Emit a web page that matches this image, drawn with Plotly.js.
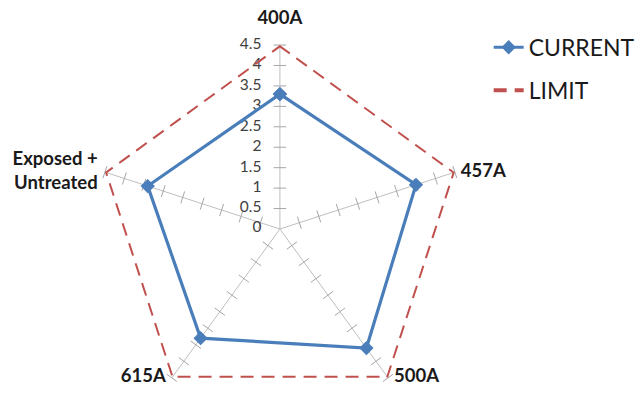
<!DOCTYPE html>
<html>
<head>
<meta charset="utf-8">
<script src="https://cdn.plot.ly/plotly-3.0.1.min.js"></script>
<style>
  html, body { margin: 0; padding: 0; background: #ffffff; overflow: hidden; }
  #chart { width: 640px; height: 430px; }
</style>
</head>
<body>
<div id="chart"></div>
<script>
// Radar chart data: current readings vs. the fixed limit on each branch
const categories = ['400A', '457A', '500A', '615A', 'Exposed +<br>Untreated'];
const currentValues = [3.3, 3.5, 3.6, 3.3, 3.4];
const limitValues = [4.5, 4.5, 4.5, 4.5, 4.5];
const radialTicks = [0, 0.5, 1, 1.5, 2, 2.5, 3, 3.5, 4, 4.5];

const FONT = 'Lato, "Open Sans", sans-serif';
const R_MAX = 4.5;
// points lying exactly on the hub are dropped by the polar inside-test,
// so the "0" label is anchored a hair off the centre
const HUB_NUDGE = 0.01;

// close a polygon by repeating its first vertex
const closeLoop = arr => arr.concat([arr[0]]);

const traces = [];

// small cross ticks on every spoke, perpendicular to the spoke
categories.forEach((cat, i) => {
  const rs = radialTicks.filter(v => v > 0);
  traces.push({
    type: 'scatterpolar',
    mode: 'markers',
    r: rs,
    theta: rs.map(() => cat),
    marker: {
      symbol: 'line-ew',
      size: 9,
      angle: 72 * i,
      color: '#A6A6A6',
      line: { color: '#A6A6A6', width: 1 }
    },
    hoverinfo: 'skip',
    showlegend: false
  });
});

// value labels along the first spoke, kept horizontal
traces.push({
  type: 'scatterpolar',
  mode: 'markers+text',
  r: radialTicks.map(v => Math.max(v, HUB_NUDGE)),
  theta: radialTicks.map(() => categories[0]),
  text: radialTicks.map(String),
  textposition: 'middle left',
  marker: { size: 28, opacity: 0 },
  textfont: { family: FONT, size: 15.5, color: '#404040' },
  hoverinfo: 'skip',
  showlegend: false,
  cliponaxis: false
});

// category names just outside each vertex of the outer ring
traces.push({
  type: 'scatterpolar',
  mode: 'markers+text',
  r: categories.map(() => R_MAX),
  theta: categories,
  text: categories.map(c => '<b>' + c + '</b>'),
  textposition: ['top center', 'middle right', 'middle right', 'middle left', 'middle left'],
  marker: { size: [24, 8, 8, 8, 10], opacity: 0 },
  textfont: { family: FONT, size: 18.5, color: '#1a1a1a' },
  hoverinfo: 'skip',
  showlegend: false,
  cliponaxis: false
});

traces.push({
  type: 'scatterpolar',
  mode: 'lines',
  name: 'LIMIT',
  r: closeLoop(limitValues),
  theta: closeLoop(categories),
  line: { color: '#C0504D', width: 4, dash: '13px,8px' },
  legendgroup: 'b',
  legendrank: 2,
  cliponaxis: false
});

traces.push({
  type: 'scatterpolar',
  mode: 'lines+markers',
  name: 'CURRENT',
  r: closeLoop(currentValues),
  theta: closeLoop(categories),
  line: { color: '#4A7EBB', width: 3.2 },
  marker: { symbol: 'diamond', size: 11, color: '#4A7EBB' },
  legendgroup: 'a',
  legendrank: 1
});

const layout = {
  width: 640,
  height: 430,
  margin: { l: 0, r: 0, t: 0, b: 0 },
  paper_bgcolor: '#ffffff',
  font: { family: FONT, color: '#404040' },
  showlegend: true,
  legend: {
    x: 0.772, y: 0.94, xanchor: 'left', yanchor: 'top',
    font: { family: FONT, size: 23, color: '#1a1a1a' },
    tracegroupgap: 10,
    bgcolor: 'rgba(0,0,0,0)'
  },
  polar: {
    domain: { x: [97 / 640, 469 / 640], y: [15 / 430, 387 / 430] },
    bgcolor: '#ffffff',
    gridshape: 'linear',
    radialaxis: {
      range: [0, R_MAX],
      angle: 90,
      showgrid: false,
      showline: false,
      showticklabels: false,
      ticks: ''
    },
    angularaxis: {
      rotation: 90,
      direction: 'clockwise',
      showgrid: true,
      gridcolor: '#BFBFBF',
      gridwidth: 1,
      showline: false,
      showticklabels: false,
      ticks: ''
    }
  }
};

Plotly.newPlot('chart', traces, layout, { displayModeBar: false, staticPlot: true });
</script>
</body>
</html>
